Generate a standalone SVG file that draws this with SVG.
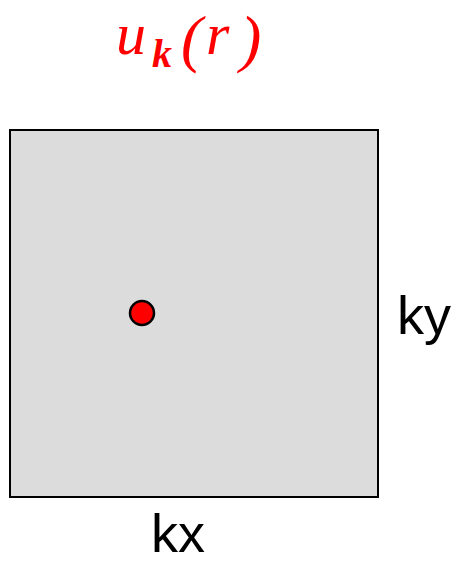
<svg xmlns="http://www.w3.org/2000/svg" width="457" height="565" viewBox="0 0 457 565">
<style>
.lbl{font-family:"Liberation Sans","DejaVu Sans",sans-serif;font-size:54px;fill:#000}
.math{font-family:"Liberation Serif","DejaVu Serif",serif;font-style:italic;fill:#ff0000}
</style>
<rect width="457" height="565" fill="#fff"/>
<g id="title">
<text class="math" font-size="60"><tspan x="116" y="54">u</tspan><tspan x="152" y="67" font-size="40" font-weight="bold">k</tspan><tspan x="181" y="60" font-size="64">(</tspan><tspan x="206" y="54">r</tspan><tspan x="240" y="60" font-size="64">)</tspan></text>
</g>
<g id="box">
<rect x="10" y="130" width="368" height="367" fill="#dcdcdc" stroke="#000" stroke-width="2"/>
</g>
<g id="point">
<circle cx="142" cy="313" r="12" fill="#ff0000" stroke="#000" stroke-width="2.5"/>
</g>
<g id="ky"><text class="lbl" x="397" y="334">ky</text></g>
<g id="kx"><text class="lbl" x="178" y="552" text-anchor="middle">kx</text></g>
<g id="connectors"></g>
</svg>
